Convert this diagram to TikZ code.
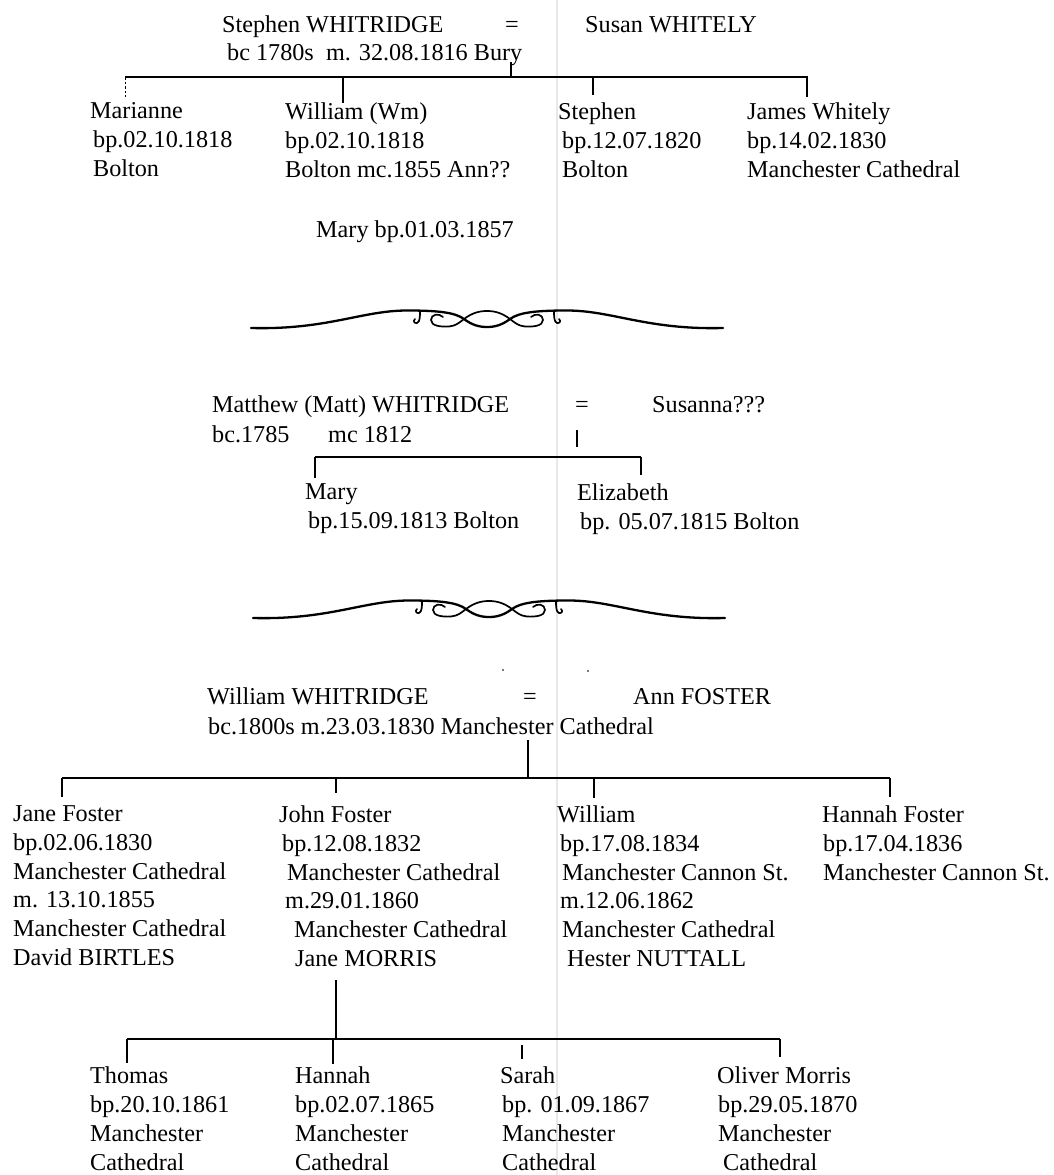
\documentclass[tikz,border=0pt]{standalone}
\usepackage{fontspec}
\setmainfont{Liberation Serif}
\newcommand\fsA{\fontsize{24.2pt}{29pt}\selectfont}
\newcommand\fsB{\fontsize{24.2pt}{28.8pt}\selectfont}
\tikzset{
  ornament/.pic={
    % main strand with swoops
    \draw[line width=2.3pt, line cap=round]
      (-236,0) .. controls (-160,2) and (-125,-17.5) .. (-80,-17.5)
      .. controls (-50,-17.5) and (-32,-15.75) .. (-23,-9)
      .. controls (-15,-3) and (-8,-1) .. (0,-1)
      .. controls (8,-1) and (15,-3) .. (23,-9)
      .. controls (32,-15.75) and (50,-17.5) .. (80,-17.5)
      .. controls (125,-17.5) and (160,2) .. (236,0);
    % second strand with curled ends
    \draw[line width=1.7pt, line cap=round]
      (-44,-11) .. controls (-48,-15) and (-56,-14) .. (-56,-8)
      .. controls (-56,-2) and (-46,-1) .. (-38,-1.5)
      .. controls (-31,-2) and (-27,-6) .. (-23,-9)
      .. controls (-15,-15) and (-8,-17) .. (0,-17)
      .. controls (8,-17) and (15,-15) .. (23,-9)
      .. controls (27,-6) and (31,-2) .. (38,-1.5)
      .. controls (46,-1) and (56,-2) .. (56,-8)
      .. controls (56,-14) and (48,-15) .. (44,-11);
    % hooks hanging from the main strand
    \draw[line width=1.7pt, line cap=round]
      (-67,-17) .. controls (-67,-12) and (-67,-6) .. (-70,-5)
      .. controls (-73,-4.5) and (-74,-7) .. (-72,-9);
    \draw[line width=1.7pt, line cap=round]
      (67,-17) .. controls (67,-12) and (67,-6) .. (70,-5)
      .. controls (73,-4.5) and (74,-7) .. (72,-9);
  }
}
\begin{document}
\begin{tikzpicture}[x=1pt,y=-1pt,
  txt/.style={anchor=base west, inner sep=0pt, font=\fsA},
  eqs/.style={anchor=base, inner sep=0pt, font=\fsA},
  kid/.style={anchor=north west, inner sep=0pt, align=left, font=\fsA},
  kidb/.style={anchor=north west, inner sep=0pt, align=left, font=\fsB},
  bar/.style={line width=2pt},
  drop/.style={line width=1.5pt},
  faint/.style={black!9, line width=1.2pt},
]
\useasboundingbox (0,0) rectangle (1053,1175);
\fill[white] (0,0) rectangle (1053,1175);
% faint fold of the scanned page
\draw[faint] (557,0) -- (557,1175);

% ---------------- Family 1 ----------------
\node[txt] (s1) at (222,32) {Stephen WHITRIDGE};
\node[eqs] (e1) at (512,32) {=};
\node[txt] (s2) at (585,32) {Susan WHITELY};
\node[txt] (s3) at (227,60) {bc 1780s\ \ m. 32.08.1816 Bury};

\node[kid] (k1) at (90,102.5) {Marianne\\\hspace*{3pt}bp.02.10.1818\\\hspace*{3pt}Bolton};
\node[kid] (k2) at (285,102.5) {William (Wm)\\bp.02.10.1818\\Bolton mc.1855 Ann??};
\node[kid] (k3) at (558,102.5) {Stephen\\\hspace*{4pt}bp.12.07.1820\\\hspace*{4pt}Bolton};
\node[kid] (k4) at (747,102.5) {James Whitely\\bp.14.02.1830\\Manchester Cathedral};
\node[txt] (m1) at (316,237) {Mary bp.01.03.1857};

\coordinate (t1a) at (511,62);
\coordinate (t1b) at (511,77);
\coordinate (b1l) at (125,77);
\coordinate (b1r) at (808,77);
\coordinate (d1a) at (125,97);
\coordinate (d1b0) at (343,77);
\coordinate (d1b) at (343,103);
\coordinate (d1c0) at (593,77);
\coordinate (d1c) at (593,95);
\coordinate (d1d0) at (807,77);
\coordinate (d1d) at (807,97);
\draw[drop] (t1a) -- (t1b);
\draw[bar] (b1l) -- (b1r);
\draw[line width=1pt, dash pattern=on 2.5pt off 2pt] (b1l) -- (d1a);
\draw[drop] (d1b0) -- (d1b);
\draw[drop] (d1c0) -- (d1c);
\draw[drop] (d1d0) -- (d1d);

\pic (o1) at (487,328) {ornament};

% ---------------- Family 2 ----------------
\node[txt] (f1) at (212,412) {Matthew (Matt) WHITRIDGE};
\node[eqs] (e2) at (582,412) {=};
\node[txt] (f2) at (652,412) {Susanna???};
\node[txt] (f3) at (212,442) {bc.1785};
\node[txt] (f4) at (328,442) {mc 1812};
\node[kid] (k5) at (305,483.5) {Mary\\\hspace*{3pt}bp.15.09.1813 Bolton};
\node[kid] (k6) at (577,483.5) {Elizabeth\\\hspace*{3pt}bp. 05.07.1815 Bolton};

\coordinate (t2a) at (577,430);
\coordinate (t2b) at (577,447);
\coordinate (b2l) at (315,457);
\coordinate (b2r) at (641,457);
\coordinate (d2a) at (315,478);
\coordinate (d2b) at (641,475);
\draw[drop] (t2a) -- (t2b);
\draw[bar] (b2l) -- (b2r);
\draw[drop] (b2l) -- (d2a);
\draw[drop] (b2r) -- (d2b);

\pic (o2) at (489,618) {ornament};
\fill[black!70] (503,670) circle (1.2);
\fill[black!70] (588,671) circle (1.1);

% ---------------- Family 3 ----------------
\node[txt] (w1) at (207,704) {William WHITRIDGE};
\node[eqs] (e3) at (530,704) {=};
\node[txt] (w2) at (633,704) {Ann FOSTER};
\node[txt] (w3) at (208,734) {bc.1800s m.23.03.1830 Manchester Cathedral};

\node[kidb] (k7) at (13,805.5) {Jane Foster\\bp.02.06.1830\\Manchester Cathedral\\m. 13.10.1855\\Manchester Cathedral\\David BIRTLES};
\node[kidb] (k8) at (279,805.5) {John Foster\\\hspace*{3pt}bp.12.08.1832\\\hspace*{8pt}Manchester Cathedral\\\hspace*{6pt}m.29.01.1860\\\hspace*{15pt}Manchester Cathedral\\\hspace*{16pt}Jane MORRIS};
\node[kidb] (k9) at (557,805.5) {William\\\hspace*{3pt}bp.17.08.1834\\\hspace*{5pt}Manchester Cannon St.\\\hspace*{3pt}m.12.06.1862\\\hspace*{5pt}Manchester Cathedral\\\hspace*{10pt}Hester NUTTALL};
\node[kidb] (k10) at (822,805.5) {Hannah Foster\\\hspace*{1pt}bp.17.04.1836\\\hspace*{1pt}Manchester Cannon St.};

\coordinate (t3a) at (528,740);
\coordinate (t3b) at (528,778);
\coordinate (b3l) at (62,778);
\coordinate (b3r) at (890,778);
\coordinate (d3a) at (62,797);
\coordinate (d3b0) at (336,778);
\coordinate (d3b) at (336,793);
\coordinate (d3c0) at (594,778);
\coordinate (d3c) at (594,798);
\coordinate (d3d) at (890,797);
\draw[drop] (t3a) -- (t3b);
\draw[bar] (b3l) -- (b3r);
\draw[drop] (b3l) -- (d3a);
\draw[drop] (d3b0) -- (d3b);
\draw[drop] (d3c0) -- (d3c);
\draw[drop] (b3r) -- (d3d);

% ---------------- Family 4 ----------------
\node[kid, text depth=0pt] (k11) at (90,1066.5) {Thomas\\bp.20.10.1861\\Manchester\\Cathedral};
\node[kid, text depth=0pt] (k12) at (295,1066.5) {Hannah\\bp.02.07.1865\\Manchester\\Cathedral};
\node[kid, text depth=0pt] (k13) at (500,1066.5) {Sarah\\\hspace*{2pt}bp. 01.09.1867\\\hspace*{2pt}Manchester\\\hspace*{2pt}Cathedral};
\node[kid, text depth=0pt] (k14) at (717,1066.5) {Oliver Morris\\\hspace*{1pt}bp.29.05.1870\\\hspace*{1pt}Manchester\\\hspace*{6pt}Cathedral};

\coordinate (t4a) at (336,980);
\coordinate (t4b) at (336,1039);
\coordinate (b4l) at (127,1039);
\coordinate (b4r) at (780,1039);
\coordinate (d4a) at (127,1063);
\coordinate (d4b0) at (333,1039);
\coordinate (d4b) at (333,1064);
\coordinate (d4c0) at (522,1045);
\coordinate (d4c) at (522,1059);
\coordinate (d4d) at (780,1057);
\draw[drop] (t4a) -- (t4b);
\draw[bar] (b4l) -- (b4r);
\draw[drop] (b4l) -- (d4a);
\draw[drop] (d4b0) -- (d4b);
\draw[drop] (d4c0) -- (d4c);
\draw[drop] (b4r) -- (d4d);
\end{tikzpicture}
\end{document}
